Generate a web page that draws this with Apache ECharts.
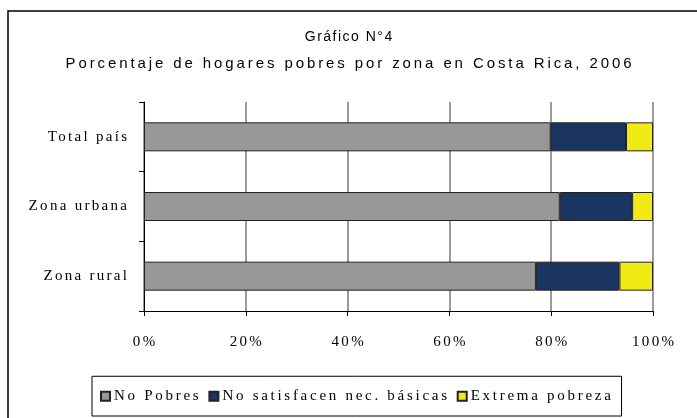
<!DOCTYPE html>
<html><head><meta charset="utf-8">
<script src="https://cdn.jsdelivr.net/npm/echarts@6/dist/echarts.min.js"></script>
<style>html,body{margin:0;padding:0;background:#fff}#c{width:697px;height:418px}</style>
</head><body><div id="c"></div>
<script>
const categories = ['Zona rural', 'Zona urbana', 'Total país'];
const noPobres = [77.0, 81.7, 79.9];
const noSatisfacen = [16.4, 14.2, 14.8];
const extrema = [6.6, 4.1, 5.3];
const seriesNames = ['No Pobres', 'No satisfacen nec. básicas', 'Extrema pobreza'];
const xTicks = [0, 20, 40, 60, 80, 100];

// Letter spacing emulation (the reference text is widely tracked)
function spacingFor(font) {
  if (/Liberation Sans/.test(font)) return /15px/.test(font) ? 2.9 : 1.5;
  if (/Liberation Serif", serif/.test(font)) return 2.72;
  if (/Liberation Serif/.test(font)) return 2.3;
  return 0;
}
const mctx = document.createElement('canvas').getContext('2d');
if (echarts.setPlatformAPI) {
  echarts.setPlatformAPI({
    measureText(text, font) {
      mctx.font = font || '12px sans-serif';
      const w = mctx.measureText(text).width;
      return {width: w + String(text).length * spacingFor((font || '') + ' ' + mctx.font)};
    }
  });
}
const origFill = CanvasRenderingContext2D.prototype.fillText;
CanvasRenderingContext2D.prototype.fillText = function (t, x, y, mw) {
  const ls = spacingFor(this.font);
  try { this.letterSpacing = ls + 'px'; } catch (e) {}
  let dx = 0;
  if (this.textAlign === 'center') dx = ls / 2;
  else if (this.textAlign === 'right' || this.textAlign === 'end') dx = ls;
  const r = mw === undefined ? origFill.call(this, t, x + dx, y) : origFill.call(this, t, x + dx, y, mw);
  try { this.letterSpacing = '0px'; } catch (e) {}
  return r;
};

const chart = echarts.init(document.getElementById('c'), null, {renderer: 'canvas'});
const serif = '"Liberation Serif"';
const legendSerif = '"Liberation Serif", serif';
const sans = '"Liberation Sans"';
const colors = ['#979897', '#1b3562', '#f2ea15'];
const values = [noPobres, noSatisfacen, extrema];

chart.setOption({
  animation: false,
  backgroundColor: '#fff',
  graphic: [{
    type: 'rect', shape: {x: 8, y: 11, width: 720, height: 440},
    style: {fill: 'none', stroke: '#000', lineWidth: 1.5}, silent: true
  }],
  title: [
    {text: 'Gráfico N°4', left: 'center', top: 24,
     textStyle: {fontFamily: sans, fontSize: 14, fontWeight: 'normal', color: '#000'}},
    {text: 'Porcentaje de hogares pobres por zona en Costa Rica, 2006', left: 'center', top: 50,
     textStyle: {fontFamily: sans, fontSize: 15, fontWeight: 'normal', color: '#000'}}
  ],
  legend: {
    data: seriesNames, bottom: 2, left: 92,
    itemWidth: 9, itemHeight: 9, itemGap: 7,
    borderColor: '#000', borderWidth: 1, padding: [11, 8, 11, 8],
    textStyle: {fontFamily: legendSerif, fontSize: 15, color: '#000', padding: [0, 0, 0, -1]},
    icon: 'rect'
  },
  grid: {left: 144, right: 44, top: 102, bottom: 107},
  xAxis: {
    type: 'value', min: 0, max: 100, interval: 20,
    axisLine: {show: true, lineStyle: {color: '#000', width: 1}},
    axisTick: {show: true, length: 5, inside: false, lineStyle: {color: '#000'}},
    axisLabel: {margin: 22, fontFamily: serif, fontSize: 15, color: '#000',
      formatter: v => xTicks.includes(v) ? v + '%' : ''},
    splitLine: {show: true, lineStyle: {color: '#7a7a7a', width: 1.5}}
  },
  yAxis: {
    type: 'category', data: categories,
    axisLine: {show: true, lineStyle: {color: '#000', width: 1}},
    axisTick: {show: true, length: 5, lineStyle: {color: '#000'}},
    axisLabel: {margin: 17, fontFamily: serif, fontSize: 15, color: '#000'},
    splitLine: {show: false}
  },
  series: seriesNames.map((n, i) => ({
    name: n, type: 'bar', stack: 'total', data: values[i],
    barWidth: 29,
    itemStyle: {color: colors[i], borderColor: '#222', borderWidth: 1}
  }))
});
</script></body></html>
